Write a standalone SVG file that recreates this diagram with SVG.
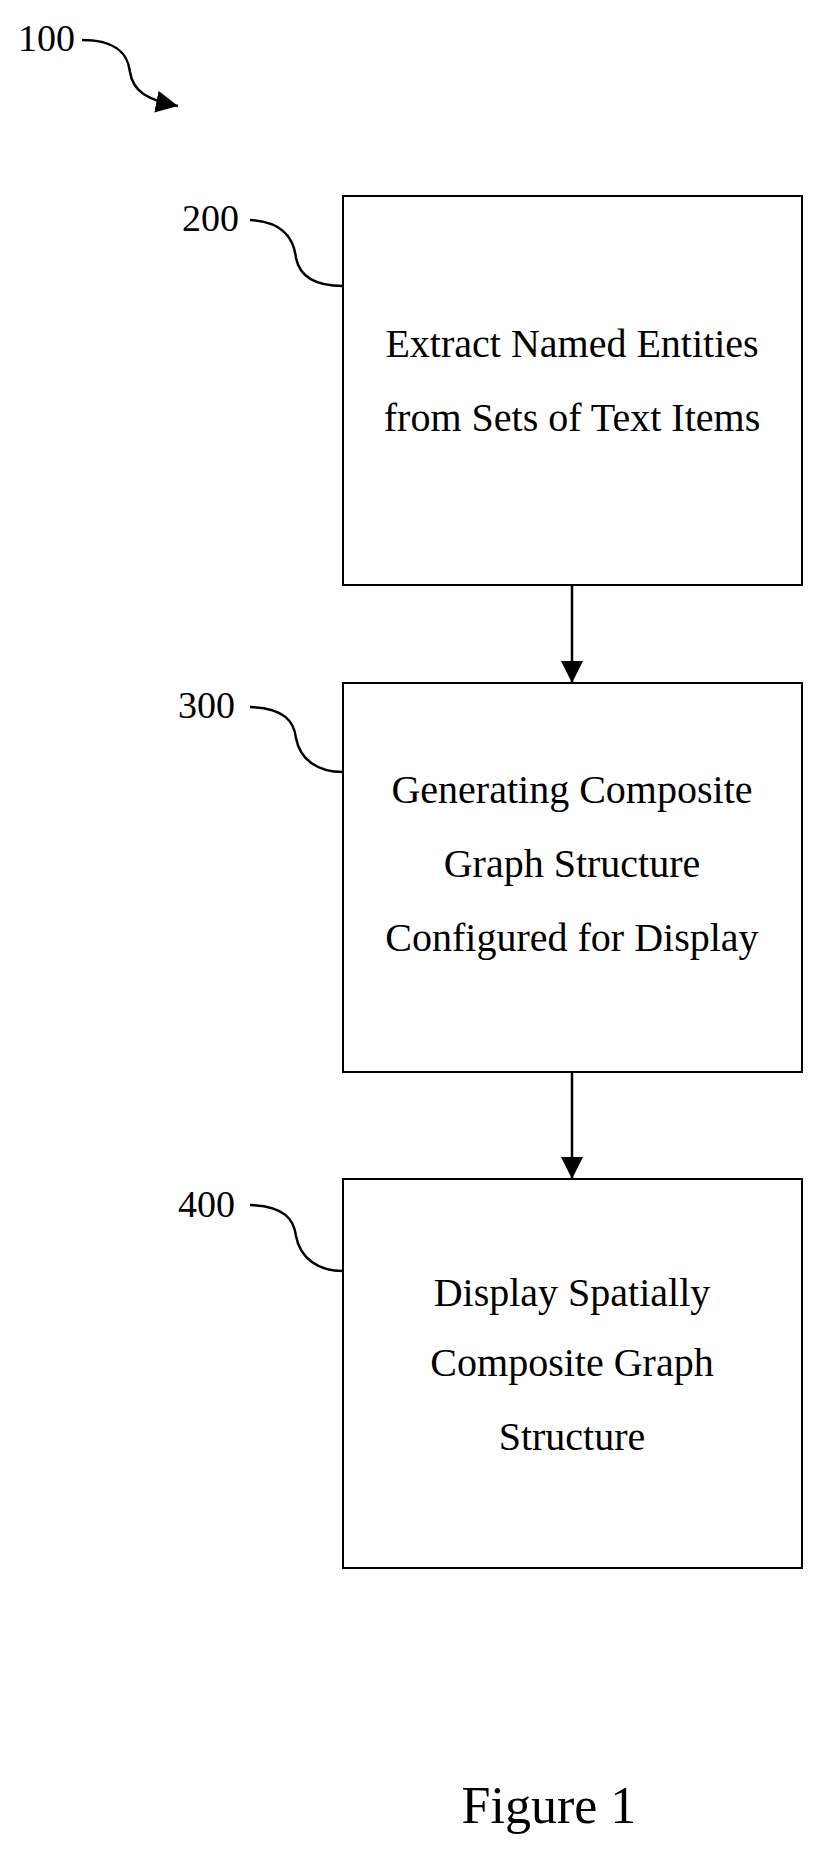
<svg xmlns="http://www.w3.org/2000/svg" width="820" height="1853" viewBox="0 0 820 1853">
<style>
.box{fill:#fff;stroke:#000;stroke-width:2}
.t{font-family:"Liberation Serif",serif;font-size:40px;text-anchor:middle;fill:#000}
.lbl{font-family:"Liberation Serif",serif;font-size:38px;fill:#000}
.lead{fill:none;stroke:#000;stroke-width:2.5}
.con{stroke:#000;stroke-width:2.5;fill:none}
</style>
<defs>
<marker id="ah2" viewBox="0 0 10 10" refX="10" refY="5" markerWidth="22" markerHeight="22" markerUnits="userSpaceOnUse" orient="auto">
<path d="M0,0 L10,5 L0,10 z" fill="#000"/>
</marker>
</defs>
<g id="label100">
<text class="lbl" x="18" y="51">100</text>
<path class="lead" d="M82,40 C118,40 128,55 130,72 C133,92 148,100 178,106" marker-end="url(#ah2)"/>
</g>
<g id="connectors">
<line class="con" x1="572" y1="585" x2="572" y2="683" marker-end="url(#ah2)"/>
<line class="con" x1="572" y1="1072" x2="572" y2="1179" marker-end="url(#ah2)"/>
</g>
<g id="node200">
<rect class="box" x="343" y="196" width="459" height="389"/>
<text class="t" x="572" y="357">Extract Named Entities</text>
<text class="t" x="572" y="431">from Sets of Text Items</text>
<text class="lbl" x="182" y="231">200</text>
<path class="lead" d="M250,220 C285,222 294,240 296,258 C300,278 318,286 343,286"/>
</g>
<g id="node300">
<rect class="box" x="343" y="683" width="459" height="389"/>
<text class="t" x="572" y="803">Generating Composite</text>
<text class="t" x="572" y="877">Graph Structure</text>
<text class="t" x="572" y="951">Configured for Display</text>
<text class="lbl" x="178" y="718">300</text>
<path class="lead" d="M250,707 C285,708 294,722 296,738 C300,760 318,772 343,772"/>
</g>
<g id="node400">
<rect class="box" x="343" y="1179" width="459" height="389"/>
<text class="t" x="572" y="1306">Display Spatially</text>
<text class="t" x="572" y="1376">Composite Graph</text>
<text class="t" x="572" y="1450">Structure</text>
<text class="lbl" x="178" y="1217">400</text>
<path class="lead" d="M250,1205 C285,1206 294,1220 296,1236 C300,1258 318,1271 343,1271"/>
</g>
<text x="549" y="1823" style="font-family:'Liberation Serif',serif;font-size:52px;text-anchor:middle">Figure 1</text>
</svg>
